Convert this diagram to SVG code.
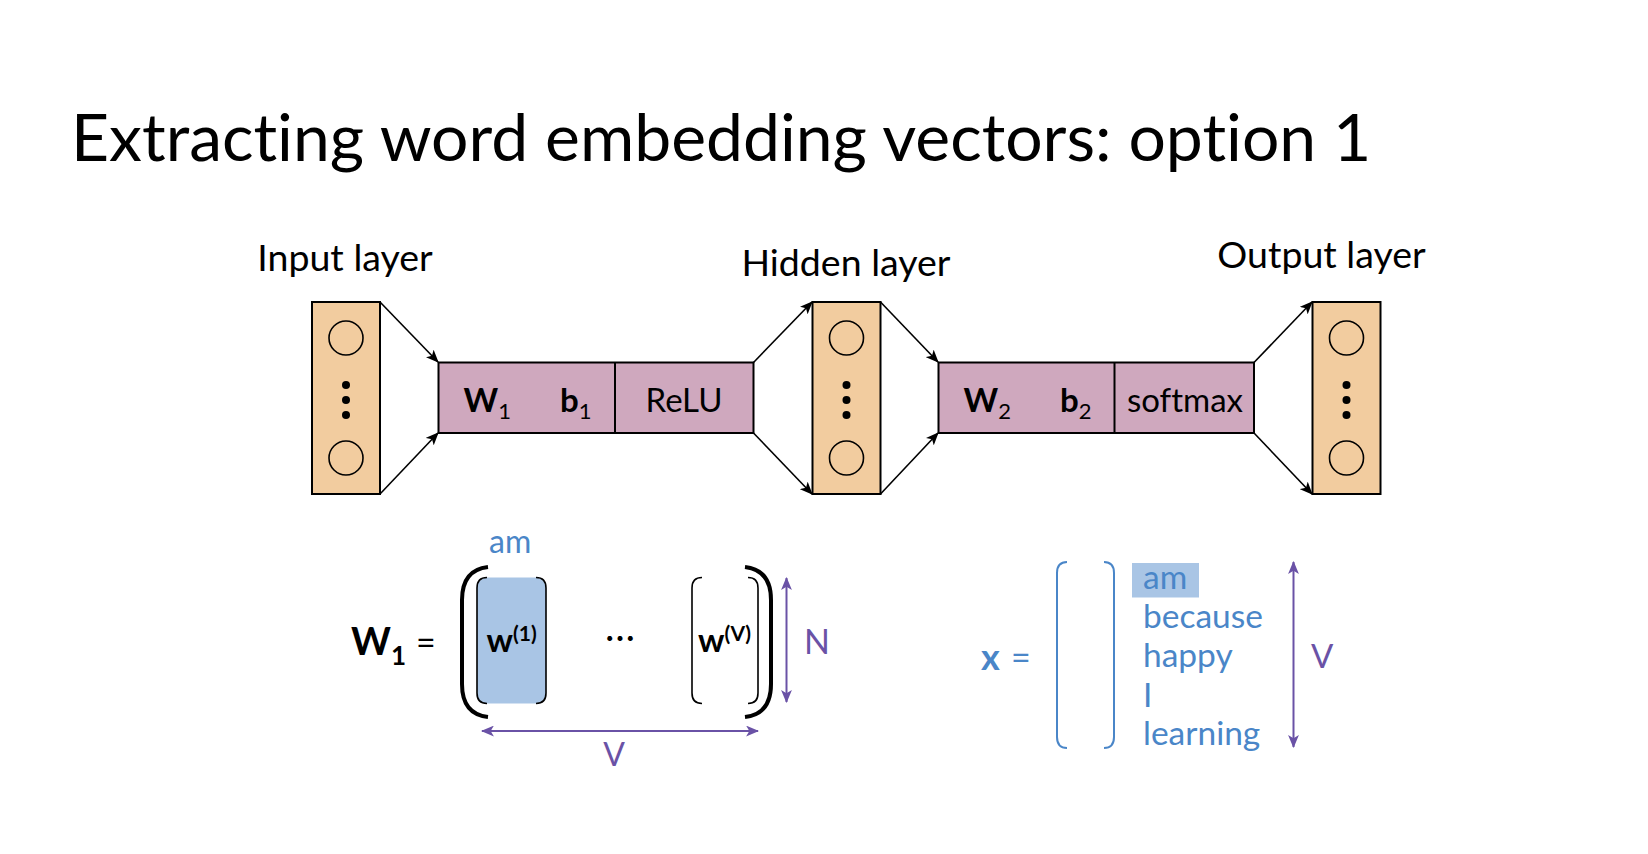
<svg xmlns="http://www.w3.org/2000/svg" width="1648" height="854" viewBox="0 0 1648 854">
<defs>
<style>
text{font-family:Lato,"Open Sans","Liberation Sans",sans-serif;font-variant-ligatures:none}
.node{fill:#f2cc9f;stroke:#000;stroke-width:2}
.op{fill:#cfa8be;stroke:#000;stroke-width:2}
.circ{fill:none;stroke:#000;stroke-width:1.6}
.lbl{font-size:33px;fill:#000}
.hdr{font-size:37.5px;fill:#000}
.b{font-weight:bold}
.conn{stroke:#000;stroke-width:1.6;fill:none;marker-end:url(#ah)}
.pur{stroke:#6a52a6;stroke-width:2;fill:none;marker-start:url(#ap);marker-end:url(#ap)}
.blue{fill:#4a86c8}
.purt{fill:#6a52a6}
</style>
<marker id="ah" viewBox="0 0 12 10" refX="11" refY="5" markerWidth="13" markerHeight="11" markerUnits="userSpaceOnUse" orient="auto">
<path d="M0,0 L12,5 L0,10 L3,5 Z" fill="#000"/>
</marker>
<marker id="ap" viewBox="0 0 12 10" refX="11" refY="5" markerWidth="13" markerHeight="11" markerUnits="userSpaceOnUse" orient="auto-start-reverse">
<path d="M0,0 L12,5 L0,10 L3,5 Z" fill="#6a52a6"/>
</marker>
<g id="dots">
<circle cx="0" cy="-15" r="4" fill="#000"/>
<circle cx="0" cy="0" r="4" fill="#000"/>
<circle cx="0" cy="15" r="4" fill="#000"/>
</g>
</defs>
<rect width="1648" height="854" fill="#fff"/>
<text x="71" y="161" font-size="66" fill="#000">Extracting word embedding vectors: option 1</text>

<g id="input-layer">
<text class="hdr" x="345" y="271" text-anchor="middle">Input layer</text>
<rect class="node" x="312" y="302" width="68" height="192"/>
<circle class="circ" cx="346" cy="338" r="17"/>
<use href="#dots" x="346" y="400"/>
<circle class="circ" cx="346" cy="458" r="17"/>
</g>

<g id="layer1">
<rect class="op" x="438.5" y="362.5" width="315" height="70.5"/>
<line x1="615" y1="362.5" x2="615" y2="433" stroke="#000" stroke-width="2"/>
<text class="lbl b" x="463.5" y="412">W<tspan font-size="22" dy="7" font-weight="normal">1</tspan></text>
<text class="lbl b" x="560" y="412">b<tspan font-size="22" dy="7" font-weight="normal">1</tspan></text>
<text class="lbl" x="684" y="412" text-anchor="middle">ReLU</text>
</g>

<g id="hidden-layer">
<text class="hdr" x="846" y="276" text-anchor="middle">Hidden layer</text>
<rect class="node" x="812.5" y="302" width="68" height="192"/>
<circle class="circ" cx="846.5" cy="338" r="17"/>
<use href="#dots" x="846.5" y="400"/>
<circle class="circ" cx="846.5" cy="458" r="17"/>
</g>

<g id="layer2">
<rect class="op" x="938.5" y="362.5" width="315.5" height="70.5"/>
<line x1="1114.5" y1="362.5" x2="1114.5" y2="433" stroke="#000" stroke-width="2"/>
<text class="lbl b" x="963.5" y="412">W<tspan font-size="22" dy="7" font-weight="normal">2</tspan></text>
<text class="lbl b" x="1060" y="412">b<tspan font-size="22" dy="7" font-weight="normal">2</tspan></text>
<text class="lbl" x="1185" y="412" text-anchor="middle">softmax</text>
</g>

<g id="output-layer">
<text class="hdr" x="1321.5" y="268" text-anchor="middle">Output layer</text>
<rect class="node" x="1312.5" y="302" width="68" height="192"/>
<circle class="circ" cx="1346.5" cy="338" r="17"/>
<use href="#dots" x="1346.5" y="400"/>
<circle class="circ" cx="1346.5" cy="458" r="17"/>
</g>

<g id="connectors">
<line class="conn" x1="380" y1="302" x2="438" y2="362"/>
<line class="conn" x1="380" y1="494" x2="438" y2="433"/>
<line class="conn" x1="753.5" y1="362.5" x2="812" y2="302"/>
<line class="conn" x1="753.5" y1="433" x2="812" y2="494"/>
<line class="conn" x1="880.5" y1="302" x2="938" y2="362"/>
<line class="conn" x1="880.5" y1="494" x2="938" y2="433"/>
<line class="conn" x1="1254" y1="362.5" x2="1312" y2="302"/>
<line class="conn" x1="1254" y1="433" x2="1312" y2="494"/>
</g>

<g id="w1-matrix">
<text x="351" y="655" font-size="38" font-weight="bold" fill="#000">W<tspan font-size="26" dy="10">1</tspan></text>
<text x="416" y="655" font-size="34" fill="#000">=</text>
<text x="489" y="553" font-size="32" class="blue">am</text>
<path d="M488,567 C470,569 462,580 462,600 L462,684 C462,704 470,715 488,717" fill="none" stroke="#000" stroke-width="4"/>
<path d="M745,567 C763,569 771,580 771,600 L771,684 C771,704 763,715 745,717" fill="none" stroke="#000" stroke-width="4"/>
<rect x="477" y="577.5" width="69" height="126" rx="10" fill="#a9c5e5"/>
<path d="M487,577.5 C480,577.5 477,581 477,588 L477,693 C477,700 480,703.5 487,703.5" fill="none" stroke="#000" stroke-width="1.6"/>
<path d="M536,577.5 C543,577.5 546,581 546,588 L546,693 C546,700 543,703.5 536,703.5" fill="none" stroke="#000" stroke-width="1.6"/>
<text x="486.5" y="652" font-size="33" font-weight="bold" fill="#000">w<tspan font-size="21" dy="-11">(1)</tspan></text>
<text x="605" y="641" font-size="40" fill="#000">…</text>
<path d="M702,577.5 C695,577.5 692,581 692,588 L692,693 C692,700 695,703.5 702,703.5" fill="none" stroke="#000" stroke-width="1.6"/>
<path d="M748,577.5 C755,577.5 758,581 758,588 L758,693 C758,700 755,703.5 748,703.5" fill="none" stroke="#000" stroke-width="1.6"/>
<text x="698" y="652" font-size="33" font-weight="bold" fill="#000">w<tspan font-size="21" dy="-11">(V)</tspan></text>
<line class="pur" x1="786.5" y1="578" x2="786.5" y2="702"/>
<text x="804" y="654" font-size="34" class="purt">N</text>
<line class="pur" x1="482" y1="731" x2="758" y2="731"/>
<text x="614" y="766" font-size="32" class="purt" text-anchor="middle">V</text>
</g>

<g id="x-vector">
<text x="981" y="670" font-size="36" font-weight="bold" class="blue">x</text>
<text x="1011" y="670" font-size="34" class="blue">=</text>
<path d="M1067,562 C1060,562 1057,566 1057,573 L1057,737 C1057,744 1060,748 1067,748" fill="none" stroke="#4a86c8" stroke-width="2"/>
<path d="M1104,562 C1111,562 1114,566 1114,573 L1114,737 C1114,744 1111,748 1104,748" fill="none" stroke="#4a86c8" stroke-width="2"/>
<rect x="1132" y="563" width="67" height="34.5" fill="#a9c5e5"/>
<text font-size="33.5" class="blue">
<tspan x="1143" y="589">am</tspan>
<tspan x="1143" y="628">because</tspan>
<tspan x="1143" y="667">happy</tspan>
<tspan x="1143" y="706.5">I</tspan>
<tspan x="1143" y="745">learning</tspan>
</text>
<line class="pur" x1="1293.5" y1="562" x2="1293.5" y2="747"/>
<text x="1311" y="668" font-size="33" class="purt">V</text>
</g>
</svg>
